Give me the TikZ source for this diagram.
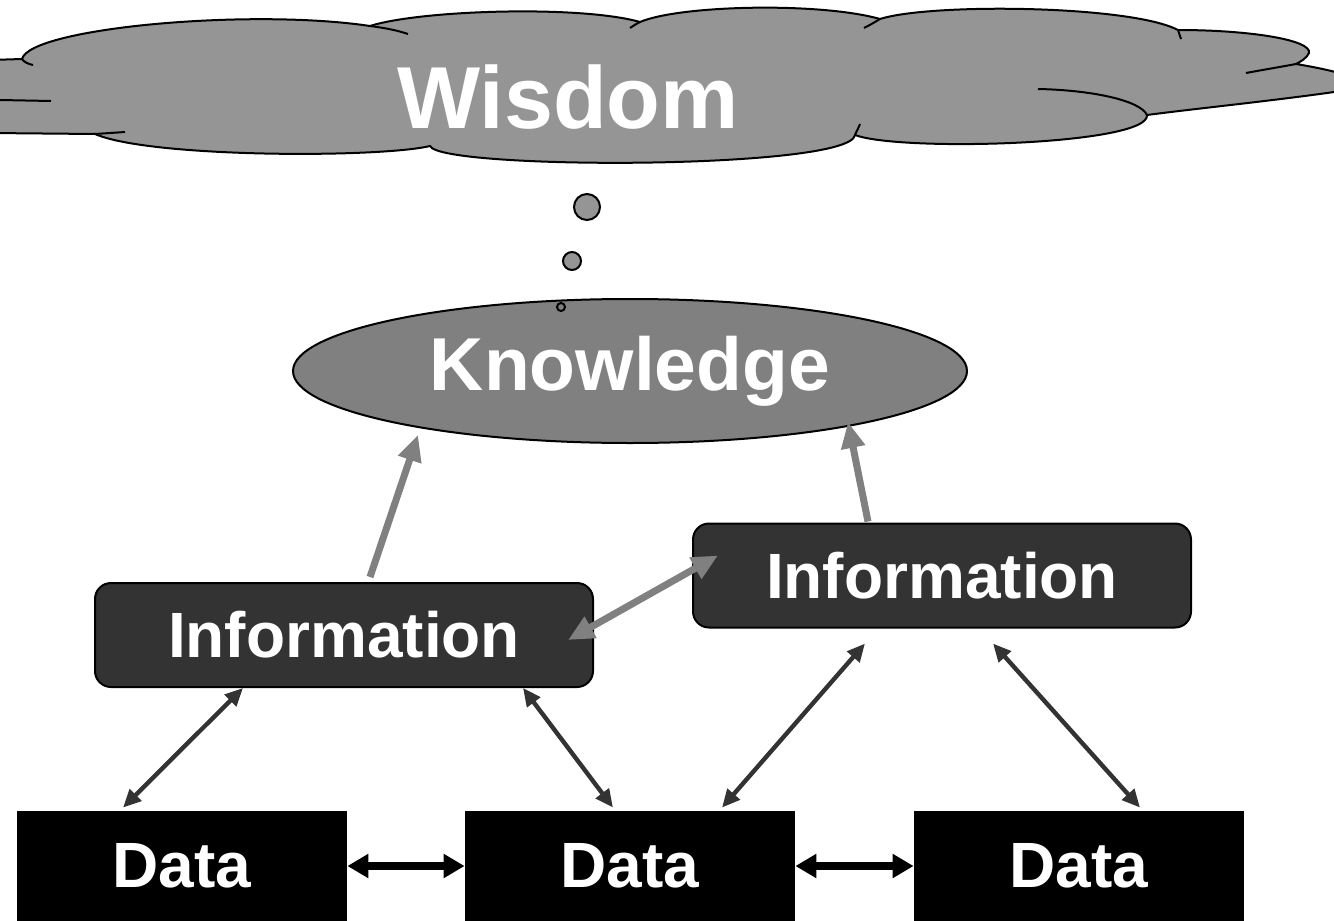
\documentclass[tikz,border=0pt]{standalone}
\usepackage{fontspec}
\newfontfamily\lab{Liberation Sans}
\usetikzlibrary{shapes.geometric,arrows.meta,calc}
\definecolor{cloudgray}{HTML}{959595}
\definecolor{knowgray}{HTML}{808080}
\definecolor{infogray}{HTML}{333333}
\definecolor{arrgray}{HTML}{808080}
\begin{document}
\begin{tikzpicture}[x=0.5pt,y=-0.5pt,
  labfont/.style={font=\lab\bfseries\fontsize{#1}{#1}\selectfont},
  infobox/.style={draw=black, line width=1pt, fill=infogray, rounded corners=8pt,
    minimum width=249pt, minimum height=52pt, inner sep=0pt, text=white, labfont=32},
  databox/.style={fill=black, minimum width=165pt, minimum height=55pt, inner sep=0pt,
    text=white, labfont=32},
  knowbox/.style={ellipse, draw=black, line width=1pt, fill=knowgray, minimum width=337pt,
    minimum height=72pt, inner sep=0pt, text=white, labfont=37.5},
  bubble/.style={circle, draw=black, line width=1pt, fill=cloudgray, inner sep=0pt},
  cloudline/.style={draw=black, line width=1pt},
  grayarrow/.style={draw=arrgray, line width=3.5pt, -{Triangle[length=13pt,width=11.5pt]}},
  grayboth/.style={draw=arrgray, line width=3.5pt, {Triangle[length=13pt,width=11.5pt]}-{Triangle[length=13pt,width=11.5pt]}},
  darkboth/.style={draw=infogray, line width=2.2pt, {Triangle[length=9pt,width=8pt]}-{Triangle[length=9pt,width=8pt]}},
  blackboth/.style={draw=black, line width=3.8pt, {Triangle[length=10.5pt,width=11.5pt]}-{Triangle[length=10.5pt,width=11.5pt]}}
]
\useasboundingbox (0,0) rectangle (1334,921);
\begin{scope}
\clip (0,0) rectangle (1334,921);
% cloud
\path[fill=cloudgray, draw=black, line width=1pt]
 (-10,60) -- (22,59)
 .. controls (30,28) and (250,8) .. (370,26)
 .. controls (420,10) and (580,5) .. (640,22)
 .. controls (680,5) and (820,2) .. (880,19)
 .. controls (930,3) and (1130,5) .. (1178,30)
 .. controls (1250,30) and (1312,40) .. (1309,53)
 .. controls (1307,58) and (1300,62) .. (1296,64)
 .. controls (1320,68) and (1350,74) .. (1360,82)
 -- (1360,88)
 .. controls (1300,98) and (1200,108) .. (1147,115)
 .. controls (1150,145) and (900,152) .. (855,135)
 .. controls (850,170) and (440,170) .. (430,146)
 .. controls (380,158) and (150,158) .. (95,134)
 -- (-10,133) -- cycle;
\draw[cloudline] (0,100) -- (51,101);
\draw[cloudline] (95,134) -- (125,132);
\draw[cloudline] (22,59) .. controls (24,62) and (28,64) .. (33,65);
\draw[cloudline] (370,26) .. controls (385,28) and (396,30) .. (408,34);
\draw[cloudline] (640,22) .. controls (636,24) and (633,26) .. (630,28);
\draw[cloudline] (880,19) .. controls (875,22) and (870,25) .. (864,28);
\draw[cloudline] (1178,30) .. controls (1179,33) and (1180,36) .. (1181,39);
\draw[cloudline] (1296,64) .. controls (1280,67) and (1262,70) .. (1246,73);
\draw[cloudline] (1147,115) .. controls (1140,100) and (1090,90) .. (1038,89);
\draw[cloudline] (855,135) .. controls (857,130) and (859,127) .. (860,124);
\node[text=white, labfont=44] (wis) at (568,97) {Wisdom};

% knowledge
\node[knowbox] (know) at (630,371) {Knowledge};
\node[bubble, minimum size=13pt] (b1) at (587,207) {};
\node[bubble, minimum size=9pt] (b2) at (572,261) {};
\node[bubble, minimum size=4pt, fill=knowgray] (b3) at (561,307) {};

% information
\node[infobox] (infoL) at (344,635) {Information};
\node[infobox] (infoR) at (942,575.5) {Information};

% data
\node[databox] (dataL) at (182,866) {Data};
\node[databox] (dataM) at (630,866) {Data};
\node[databox] (dataR) at (1079,866) {Data};
\end{scope}

% arrows
\draw[grayarrow] ($(infoL.north)+(26,-5)$) -- ($(know.center)+(-212,64)$);
\draw[grayarrow] ($(infoR.north)+(-74,-1)$) -- ($(know.center)+(218,51)$);
\draw[grayboth] ($(infoL.center)+(224,5)$) -- ($(infoR.center)+(-224,-20)$);

\draw[darkboth] ($(dataL.north)+(-59,-3)$) -- ($(infoL.south)+(-101,0)$);
\draw[darkboth] ($(dataM.north)+(-17,-3)$) -- ($(infoL.south)+(179,0)$);
\draw[darkboth] ($(dataM.north)+(92,-3)$) -- ($(infoR.south)+(-77,15)$);
\draw[darkboth] ($(dataR.north)+(61,-3)$) -- ($(infoR.south)+(51,15)$);

\draw[blackboth] (dataL.east) -- (dataM.west);
\draw[blackboth] (dataM.east) -- (dataR.west);
\end{tikzpicture}
\end{document}
